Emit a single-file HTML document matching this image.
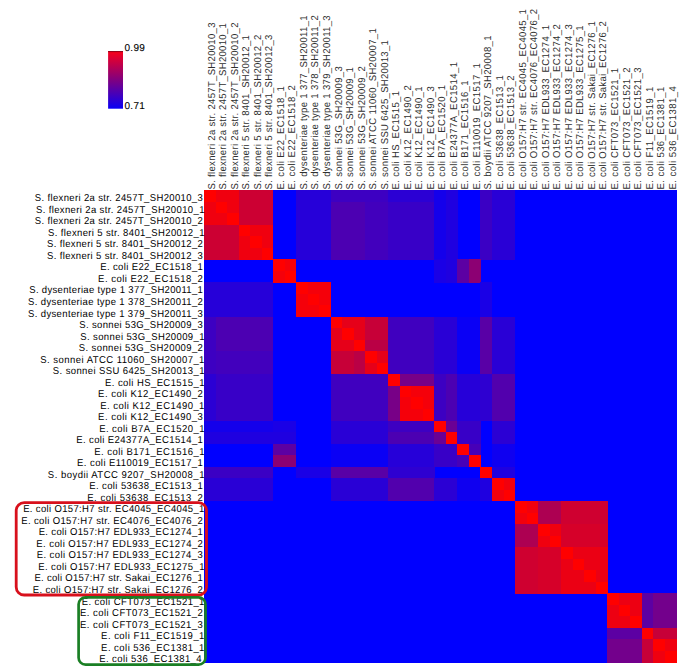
<!DOCTYPE html>
<html><head><meta charset="utf-8"><style>
html,body{margin:0;padding:0;background:#fff;width:685px;height:670px;overflow:hidden}
svg{display:block}
text{font-family:"Liberation Sans",sans-serif;font-size:10px;text-rendering:geometricPrecision;fill:#000;stroke:#000;stroke-width:0.0px;letter-spacing:0.41px}
.cols text{fill:#303030}
</style></head><body>
<svg width="685" height="670" viewBox="0 0 685 670">
<defs><linearGradient id="cb" x1="0" y1="0" x2="0" y2="1"><stop offset="0" stop-color="#fa001a"/><stop offset="0.5" stop-color="#800080"/><stop offset="1" stop-color="#0a00f5"/></linearGradient></defs>
<rect x="108.1" y="51.1" width="14.9" height="57.6" fill="url(#cb)"/>
<rect x="108.1" y="51.1" width="14.9" height="1" fill="#8a0018"/>
<text x="124.4" y="51" style="font-size:10px;letter-spacing:0.35px;stroke-width:0.1px">0.99</text>
<text x="124.4" y="108.8" style="font-size:10px;letter-spacing:0.35px;stroke-width:0.1px">0.71</text>
<g shape-rendering="crispEdges">
<rect x="204.0" y="190.1" width="472.62" height="472.62" fill="#0000ff"/>
<rect x="204.00" y="190.10" width="11.82" height="11.82" fill="#ff0000"/>
<rect x="215.52" y="190.10" width="23.34" height="11.82" fill="#f0000f"/>
<rect x="238.56" y="190.10" width="34.86" height="11.82" fill="#cc0033"/>
<rect x="296.16" y="190.10" width="34.86" height="11.82" fill="#2600d9"/>
<rect x="330.72" y="190.10" width="57.90" height="11.82" fill="#3d00c2"/>
<rect x="388.32" y="190.10" width="46.38" height="11.82" fill="#2b00d4"/>
<rect x="434.40" y="190.10" width="11.82" height="11.82" fill="#1400eb"/>
<rect x="445.92" y="190.10" width="11.82" height="11.82" fill="#1f00e0"/>
<rect x="480.48" y="190.10" width="11.82" height="11.82" fill="#3b00c4"/>
<rect x="492.00" y="190.10" width="23.34" height="11.82" fill="#2900d6"/>
<rect x="204.00" y="201.62" width="11.82" height="11.82" fill="#f0000f"/>
<rect x="215.52" y="201.62" width="11.82" height="11.82" fill="#ff0000"/>
<rect x="227.04" y="201.62" width="11.82" height="11.82" fill="#f0000f"/>
<rect x="238.56" y="201.62" width="34.86" height="11.82" fill="#cc0033"/>
<rect x="296.16" y="201.62" width="34.86" height="11.82" fill="#2600d9"/>
<rect x="330.72" y="201.62" width="34.86" height="11.82" fill="#4c00b2"/>
<rect x="365.28" y="201.62" width="23.34" height="11.82" fill="#4200bd"/>
<rect x="388.32" y="201.62" width="46.38" height="11.82" fill="#3800c7"/>
<rect x="434.40" y="201.62" width="11.82" height="11.82" fill="#1400eb"/>
<rect x="445.92" y="201.62" width="11.82" height="11.82" fill="#1f00e0"/>
<rect x="480.48" y="201.62" width="11.82" height="11.82" fill="#3b00c4"/>
<rect x="492.00" y="201.62" width="23.34" height="11.82" fill="#2900d6"/>
<rect x="204.00" y="213.14" width="23.34" height="11.82" fill="#f0000f"/>
<rect x="227.04" y="213.14" width="11.82" height="11.82" fill="#ff0000"/>
<rect x="238.56" y="213.14" width="34.86" height="11.82" fill="#cc0033"/>
<rect x="296.16" y="213.14" width="34.86" height="11.82" fill="#2600d9"/>
<rect x="330.72" y="213.14" width="34.86" height="11.82" fill="#4c00b2"/>
<rect x="365.28" y="213.14" width="23.34" height="11.82" fill="#4200bd"/>
<rect x="388.32" y="213.14" width="46.38" height="11.82" fill="#3800c7"/>
<rect x="434.40" y="213.14" width="11.82" height="11.82" fill="#1400eb"/>
<rect x="445.92" y="213.14" width="11.82" height="11.82" fill="#1f00e0"/>
<rect x="480.48" y="213.14" width="11.82" height="11.82" fill="#3b00c4"/>
<rect x="492.00" y="213.14" width="23.34" height="11.82" fill="#2900d6"/>
<rect x="204.00" y="224.66" width="34.86" height="11.82" fill="#cc0033"/>
<rect x="238.56" y="224.66" width="11.82" height="11.82" fill="#ff0000"/>
<rect x="250.08" y="224.66" width="23.34" height="11.82" fill="#f0000f"/>
<rect x="296.16" y="224.66" width="34.86" height="11.82" fill="#2600d9"/>
<rect x="330.72" y="224.66" width="34.86" height="11.82" fill="#4c00b2"/>
<rect x="365.28" y="224.66" width="23.34" height="11.82" fill="#4200bd"/>
<rect x="388.32" y="224.66" width="46.38" height="11.82" fill="#3800c7"/>
<rect x="434.40" y="224.66" width="11.82" height="11.82" fill="#1400eb"/>
<rect x="445.92" y="224.66" width="11.82" height="11.82" fill="#1f00e0"/>
<rect x="480.48" y="224.66" width="11.82" height="11.82" fill="#3b00c4"/>
<rect x="492.00" y="224.66" width="23.34" height="11.82" fill="#2900d6"/>
<rect x="204.00" y="236.18" width="34.86" height="11.82" fill="#cc0033"/>
<rect x="238.56" y="236.18" width="11.82" height="11.82" fill="#f0000f"/>
<rect x="250.08" y="236.18" width="11.82" height="11.82" fill="#ff0000"/>
<rect x="261.60" y="236.18" width="11.82" height="11.82" fill="#f0000f"/>
<rect x="296.16" y="236.18" width="34.86" height="11.82" fill="#2600d9"/>
<rect x="330.72" y="236.18" width="34.86" height="11.82" fill="#4c00b2"/>
<rect x="365.28" y="236.18" width="23.34" height="11.82" fill="#4200bd"/>
<rect x="388.32" y="236.18" width="46.38" height="11.82" fill="#3800c7"/>
<rect x="434.40" y="236.18" width="11.82" height="11.82" fill="#1400eb"/>
<rect x="445.92" y="236.18" width="11.82" height="11.82" fill="#1f00e0"/>
<rect x="480.48" y="236.18" width="11.82" height="11.82" fill="#3b00c4"/>
<rect x="492.00" y="236.18" width="23.34" height="11.82" fill="#2900d6"/>
<rect x="204.00" y="247.70" width="34.86" height="11.82" fill="#cc0033"/>
<rect x="238.56" y="247.70" width="23.34" height="11.82" fill="#f0000f"/>
<rect x="261.60" y="247.70" width="11.82" height="11.82" fill="#ff0000"/>
<rect x="296.16" y="247.70" width="34.86" height="11.82" fill="#2600d9"/>
<rect x="330.72" y="247.70" width="34.86" height="11.82" fill="#4c00b2"/>
<rect x="365.28" y="247.70" width="23.34" height="11.82" fill="#4200bd"/>
<rect x="388.32" y="247.70" width="46.38" height="11.82" fill="#3800c7"/>
<rect x="434.40" y="247.70" width="11.82" height="11.82" fill="#1400eb"/>
<rect x="445.92" y="247.70" width="11.82" height="11.82" fill="#1f00e0"/>
<rect x="480.48" y="247.70" width="11.82" height="11.82" fill="#3b00c4"/>
<rect x="492.00" y="247.70" width="23.34" height="11.82" fill="#2900d6"/>
<rect x="273.12" y="259.22" width="11.82" height="11.82" fill="#ff0000"/>
<rect x="284.64" y="259.22" width="11.82" height="11.82" fill="#f5000a"/>
<rect x="434.40" y="259.22" width="11.82" height="11.82" fill="#1a00e6"/>
<rect x="445.92" y="259.22" width="11.82" height="11.82" fill="#1f00e0"/>
<rect x="457.44" y="259.22" width="11.82" height="11.82" fill="#5c00a3"/>
<rect x="468.96" y="259.22" width="11.82" height="11.82" fill="#8c0073"/>
<rect x="273.12" y="270.74" width="11.82" height="11.82" fill="#f5000a"/>
<rect x="284.64" y="270.74" width="11.82" height="11.82" fill="#ff0000"/>
<rect x="434.40" y="270.74" width="11.82" height="11.82" fill="#1a00e6"/>
<rect x="445.92" y="270.74" width="11.82" height="11.82" fill="#1f00e0"/>
<rect x="457.44" y="270.74" width="11.82" height="11.82" fill="#5c00a3"/>
<rect x="468.96" y="270.74" width="11.82" height="11.82" fill="#8c0073"/>
<rect x="204.00" y="282.26" width="69.42" height="11.82" fill="#2600d9"/>
<rect x="296.16" y="282.26" width="11.82" height="11.82" fill="#ff0000"/>
<rect x="307.68" y="282.26" width="23.34" height="11.82" fill="#f5000a"/>
<rect x="480.48" y="282.26" width="11.82" height="11.82" fill="#1a00e6"/>
<rect x="204.00" y="293.78" width="69.42" height="11.82" fill="#2600d9"/>
<rect x="296.16" y="293.78" width="11.82" height="11.82" fill="#f5000a"/>
<rect x="307.68" y="293.78" width="11.82" height="11.82" fill="#ff0000"/>
<rect x="319.20" y="293.78" width="11.82" height="11.82" fill="#f5000a"/>
<rect x="480.48" y="293.78" width="11.82" height="11.82" fill="#1a00e6"/>
<rect x="204.00" y="305.30" width="69.42" height="11.82" fill="#2600d9"/>
<rect x="296.16" y="305.30" width="23.34" height="11.82" fill="#f5000a"/>
<rect x="319.20" y="305.30" width="11.82" height="11.82" fill="#ff0000"/>
<rect x="480.48" y="305.30" width="11.82" height="11.82" fill="#1a00e6"/>
<rect x="204.00" y="316.82" width="11.82" height="11.82" fill="#3d00c2"/>
<rect x="215.52" y="316.82" width="57.90" height="11.82" fill="#4c00b2"/>
<rect x="330.72" y="316.82" width="11.82" height="11.82" fill="#ff0000"/>
<rect x="342.24" y="316.82" width="23.34" height="11.82" fill="#e60019"/>
<rect x="365.28" y="316.82" width="23.34" height="11.82" fill="#c70038"/>
<rect x="388.32" y="316.82" width="46.38" height="11.82" fill="#4000bf"/>
<rect x="434.40" y="316.82" width="23.34" height="11.82" fill="#2900d6"/>
<rect x="457.44" y="316.82" width="23.34" height="11.82" fill="#0a00f5"/>
<rect x="480.48" y="316.82" width="11.82" height="11.82" fill="#5900a6"/>
<rect x="492.00" y="316.82" width="23.34" height="11.82" fill="#2900d6"/>
<rect x="204.00" y="328.34" width="11.82" height="11.82" fill="#3d00c2"/>
<rect x="215.52" y="328.34" width="57.90" height="11.82" fill="#4c00b2"/>
<rect x="330.72" y="328.34" width="11.82" height="11.82" fill="#e60019"/>
<rect x="342.24" y="328.34" width="11.82" height="11.82" fill="#ff0000"/>
<rect x="353.76" y="328.34" width="11.82" height="11.82" fill="#e60019"/>
<rect x="365.28" y="328.34" width="23.34" height="11.82" fill="#c70038"/>
<rect x="388.32" y="328.34" width="46.38" height="11.82" fill="#4000bf"/>
<rect x="434.40" y="328.34" width="23.34" height="11.82" fill="#2900d6"/>
<rect x="457.44" y="328.34" width="23.34" height="11.82" fill="#0a00f5"/>
<rect x="480.48" y="328.34" width="11.82" height="11.82" fill="#5900a6"/>
<rect x="492.00" y="328.34" width="23.34" height="11.82" fill="#2900d6"/>
<rect x="204.00" y="339.86" width="11.82" height="11.82" fill="#3d00c2"/>
<rect x="215.52" y="339.86" width="57.90" height="11.82" fill="#4c00b2"/>
<rect x="330.72" y="339.86" width="23.34" height="11.82" fill="#e60019"/>
<rect x="353.76" y="339.86" width="11.82" height="11.82" fill="#ff0000"/>
<rect x="365.28" y="339.86" width="23.34" height="11.82" fill="#ba0045"/>
<rect x="388.32" y="339.86" width="46.38" height="11.82" fill="#4000bf"/>
<rect x="434.40" y="339.86" width="23.34" height="11.82" fill="#2900d6"/>
<rect x="457.44" y="339.86" width="23.34" height="11.82" fill="#0a00f5"/>
<rect x="480.48" y="339.86" width="11.82" height="11.82" fill="#5900a6"/>
<rect x="492.00" y="339.86" width="23.34" height="11.82" fill="#2900d6"/>
<rect x="204.00" y="351.38" width="11.82" height="11.82" fill="#3d00c2"/>
<rect x="215.52" y="351.38" width="57.90" height="11.82" fill="#4200bd"/>
<rect x="330.72" y="351.38" width="23.34" height="11.82" fill="#c70038"/>
<rect x="353.76" y="351.38" width="11.82" height="11.82" fill="#ba0045"/>
<rect x="365.28" y="351.38" width="11.82" height="11.82" fill="#ff0000"/>
<rect x="376.80" y="351.38" width="11.82" height="11.82" fill="#e60019"/>
<rect x="388.32" y="351.38" width="46.38" height="11.82" fill="#4000bf"/>
<rect x="434.40" y="351.38" width="23.34" height="11.82" fill="#2900d6"/>
<rect x="457.44" y="351.38" width="23.34" height="11.82" fill="#0a00f5"/>
<rect x="480.48" y="351.38" width="11.82" height="11.82" fill="#5900a6"/>
<rect x="492.00" y="351.38" width="23.34" height="11.82" fill="#2900d6"/>
<rect x="204.00" y="362.90" width="11.82" height="11.82" fill="#3d00c2"/>
<rect x="215.52" y="362.90" width="57.90" height="11.82" fill="#4200bd"/>
<rect x="330.72" y="362.90" width="23.34" height="11.82" fill="#c70038"/>
<rect x="353.76" y="362.90" width="11.82" height="11.82" fill="#ba0045"/>
<rect x="365.28" y="362.90" width="11.82" height="11.82" fill="#e60019"/>
<rect x="376.80" y="362.90" width="11.82" height="11.82" fill="#ff0000"/>
<rect x="388.32" y="362.90" width="46.38" height="11.82" fill="#4000bf"/>
<rect x="434.40" y="362.90" width="23.34" height="11.82" fill="#2900d6"/>
<rect x="457.44" y="362.90" width="23.34" height="11.82" fill="#0a00f5"/>
<rect x="480.48" y="362.90" width="11.82" height="11.82" fill="#5900a6"/>
<rect x="492.00" y="362.90" width="23.34" height="11.82" fill="#2900d6"/>
<rect x="204.00" y="374.42" width="11.82" height="11.82" fill="#2b00d4"/>
<rect x="215.52" y="374.42" width="57.90" height="11.82" fill="#3800c7"/>
<rect x="330.72" y="374.42" width="57.90" height="11.82" fill="#4000bf"/>
<rect x="388.32" y="374.42" width="11.82" height="11.82" fill="#ff0000"/>
<rect x="399.84" y="374.42" width="34.86" height="11.82" fill="#780087"/>
<rect x="434.40" y="374.42" width="11.82" height="11.82" fill="#3d00c2"/>
<rect x="445.92" y="374.42" width="11.82" height="11.82" fill="#4c00b2"/>
<rect x="457.44" y="374.42" width="23.34" height="11.82" fill="#2600d9"/>
<rect x="480.48" y="374.42" width="11.82" height="11.82" fill="#2e00d1"/>
<rect x="492.00" y="374.42" width="23.34" height="11.82" fill="#5200ad"/>
<rect x="204.00" y="385.94" width="11.82" height="11.82" fill="#2b00d4"/>
<rect x="215.52" y="385.94" width="57.90" height="11.82" fill="#3800c7"/>
<rect x="330.72" y="385.94" width="57.90" height="11.82" fill="#4000bf"/>
<rect x="388.32" y="385.94" width="11.82" height="11.82" fill="#780087"/>
<rect x="399.84" y="385.94" width="11.82" height="11.82" fill="#ff0000"/>
<rect x="411.36" y="385.94" width="23.34" height="11.82" fill="#f5000a"/>
<rect x="434.40" y="385.94" width="11.82" height="11.82" fill="#3d00c2"/>
<rect x="445.92" y="385.94" width="11.82" height="11.82" fill="#4c00b2"/>
<rect x="457.44" y="385.94" width="23.34" height="11.82" fill="#2600d9"/>
<rect x="480.48" y="385.94" width="11.82" height="11.82" fill="#2e00d1"/>
<rect x="492.00" y="385.94" width="23.34" height="11.82" fill="#5200ad"/>
<rect x="204.00" y="397.46" width="11.82" height="11.82" fill="#2b00d4"/>
<rect x="215.52" y="397.46" width="57.90" height="11.82" fill="#3800c7"/>
<rect x="330.72" y="397.46" width="57.90" height="11.82" fill="#4000bf"/>
<rect x="388.32" y="397.46" width="11.82" height="11.82" fill="#780087"/>
<rect x="399.84" y="397.46" width="11.82" height="11.82" fill="#f5000a"/>
<rect x="411.36" y="397.46" width="11.82" height="11.82" fill="#ff0000"/>
<rect x="422.88" y="397.46" width="11.82" height="11.82" fill="#f5000a"/>
<rect x="434.40" y="397.46" width="11.82" height="11.82" fill="#3d00c2"/>
<rect x="445.92" y="397.46" width="11.82" height="11.82" fill="#4c00b2"/>
<rect x="457.44" y="397.46" width="23.34" height="11.82" fill="#2600d9"/>
<rect x="480.48" y="397.46" width="11.82" height="11.82" fill="#2e00d1"/>
<rect x="492.00" y="397.46" width="23.34" height="11.82" fill="#5200ad"/>
<rect x="204.00" y="408.98" width="11.82" height="11.82" fill="#2b00d4"/>
<rect x="215.52" y="408.98" width="57.90" height="11.82" fill="#3800c7"/>
<rect x="330.72" y="408.98" width="57.90" height="11.82" fill="#4000bf"/>
<rect x="388.32" y="408.98" width="11.82" height="11.82" fill="#780087"/>
<rect x="399.84" y="408.98" width="23.34" height="11.82" fill="#f5000a"/>
<rect x="422.88" y="408.98" width="11.82" height="11.82" fill="#ff0000"/>
<rect x="434.40" y="408.98" width="11.82" height="11.82" fill="#3d00c2"/>
<rect x="445.92" y="408.98" width="11.82" height="11.82" fill="#4c00b2"/>
<rect x="457.44" y="408.98" width="23.34" height="11.82" fill="#2600d9"/>
<rect x="480.48" y="408.98" width="11.82" height="11.82" fill="#2e00d1"/>
<rect x="492.00" y="408.98" width="23.34" height="11.82" fill="#5200ad"/>
<rect x="204.00" y="420.50" width="69.42" height="11.82" fill="#1400eb"/>
<rect x="273.12" y="420.50" width="23.34" height="11.82" fill="#1a00e6"/>
<rect x="330.72" y="420.50" width="57.90" height="11.82" fill="#2900d6"/>
<rect x="388.32" y="420.50" width="46.38" height="11.82" fill="#3d00c2"/>
<rect x="434.40" y="420.50" width="11.82" height="11.82" fill="#ff0000"/>
<rect x="445.92" y="420.50" width="11.82" height="11.82" fill="#6b0094"/>
<rect x="457.44" y="420.50" width="23.34" height="11.82" fill="#3800c7"/>
<rect x="492.00" y="420.50" width="23.34" height="11.82" fill="#2b00d4"/>
<rect x="204.00" y="432.02" width="92.46" height="11.82" fill="#1f00e0"/>
<rect x="330.72" y="432.02" width="57.90" height="11.82" fill="#2900d6"/>
<rect x="388.32" y="432.02" width="46.38" height="11.82" fill="#4c00b2"/>
<rect x="434.40" y="432.02" width="11.82" height="11.82" fill="#6b0094"/>
<rect x="445.92" y="432.02" width="11.82" height="11.82" fill="#ff0000"/>
<rect x="457.44" y="432.02" width="23.34" height="11.82" fill="#3800c7"/>
<rect x="492.00" y="432.02" width="23.34" height="11.82" fill="#2b00d4"/>
<rect x="273.12" y="443.54" width="23.34" height="11.82" fill="#5c00a3"/>
<rect x="330.72" y="443.54" width="57.90" height="11.82" fill="#0a00f5"/>
<rect x="388.32" y="443.54" width="46.38" height="11.82" fill="#2600d9"/>
<rect x="434.40" y="443.54" width="23.34" height="11.82" fill="#3800c7"/>
<rect x="457.44" y="443.54" width="11.82" height="11.82" fill="#ff0000"/>
<rect x="468.96" y="443.54" width="11.82" height="11.82" fill="#4700b8"/>
<rect x="492.00" y="443.54" width="23.34" height="11.82" fill="#0f00f0"/>
<rect x="273.12" y="455.06" width="23.34" height="11.82" fill="#8c0073"/>
<rect x="330.72" y="455.06" width="57.90" height="11.82" fill="#0a00f5"/>
<rect x="388.32" y="455.06" width="46.38" height="11.82" fill="#2600d9"/>
<rect x="434.40" y="455.06" width="23.34" height="11.82" fill="#3800c7"/>
<rect x="457.44" y="455.06" width="11.82" height="11.82" fill="#4700b8"/>
<rect x="468.96" y="455.06" width="11.82" height="11.82" fill="#ff0000"/>
<rect x="492.00" y="455.06" width="23.34" height="11.82" fill="#0f00f0"/>
<rect x="204.00" y="466.58" width="69.42" height="11.82" fill="#3b00c4"/>
<rect x="296.16" y="466.58" width="34.86" height="11.82" fill="#1a00e6"/>
<rect x="330.72" y="466.58" width="57.90" height="11.82" fill="#5900a6"/>
<rect x="388.32" y="466.58" width="46.38" height="11.82" fill="#2e00d1"/>
<rect x="480.48" y="466.58" width="11.82" height="11.82" fill="#ff0000"/>
<rect x="492.00" y="466.58" width="23.34" height="11.82" fill="#1f00e0"/>
<rect x="204.00" y="478.10" width="69.42" height="11.82" fill="#2900d6"/>
<rect x="330.72" y="478.10" width="57.90" height="11.82" fill="#2900d6"/>
<rect x="388.32" y="478.10" width="46.38" height="11.82" fill="#5200ad"/>
<rect x="434.40" y="478.10" width="23.34" height="11.82" fill="#2b00d4"/>
<rect x="457.44" y="478.10" width="23.34" height="11.82" fill="#0f00f0"/>
<rect x="480.48" y="478.10" width="11.82" height="11.82" fill="#1f00e0"/>
<rect x="492.00" y="478.10" width="11.82" height="11.82" fill="#ff0000"/>
<rect x="503.52" y="478.10" width="11.82" height="11.82" fill="#f2000d"/>
<rect x="204.00" y="489.62" width="69.42" height="11.82" fill="#2900d6"/>
<rect x="330.72" y="489.62" width="57.90" height="11.82" fill="#2900d6"/>
<rect x="388.32" y="489.62" width="46.38" height="11.82" fill="#5200ad"/>
<rect x="434.40" y="489.62" width="23.34" height="11.82" fill="#2b00d4"/>
<rect x="457.44" y="489.62" width="23.34" height="11.82" fill="#0f00f0"/>
<rect x="480.48" y="489.62" width="11.82" height="11.82" fill="#1f00e0"/>
<rect x="492.00" y="489.62" width="11.82" height="11.82" fill="#f2000d"/>
<rect x="503.52" y="489.62" width="11.82" height="11.82" fill="#ff0000"/>
<rect x="515.04" y="501.14" width="11.82" height="11.82" fill="#ff0000"/>
<rect x="526.56" y="501.14" width="11.82" height="11.82" fill="#f2000d"/>
<rect x="538.08" y="501.14" width="23.34" height="11.82" fill="#ad0052"/>
<rect x="561.12" y="501.14" width="46.38" height="11.82" fill="#cf0030"/>
<rect x="515.04" y="512.66" width="11.82" height="11.82" fill="#f2000d"/>
<rect x="526.56" y="512.66" width="11.82" height="11.82" fill="#ff0000"/>
<rect x="538.08" y="512.66" width="23.34" height="11.82" fill="#ad0052"/>
<rect x="561.12" y="512.66" width="46.38" height="11.82" fill="#cf0030"/>
<rect x="515.04" y="524.18" width="23.34" height="11.82" fill="#ad0052"/>
<rect x="538.08" y="524.18" width="11.82" height="11.82" fill="#ff0000"/>
<rect x="549.60" y="524.18" width="11.82" height="11.82" fill="#f0000f"/>
<rect x="561.12" y="524.18" width="46.38" height="11.82" fill="#d60029"/>
<rect x="515.04" y="535.70" width="23.34" height="11.82" fill="#ad0052"/>
<rect x="538.08" y="535.70" width="11.82" height="11.82" fill="#f0000f"/>
<rect x="549.60" y="535.70" width="11.82" height="11.82" fill="#ff0000"/>
<rect x="561.12" y="535.70" width="46.38" height="11.82" fill="#d60029"/>
<rect x="515.04" y="547.22" width="23.34" height="11.82" fill="#cf0030"/>
<rect x="538.08" y="547.22" width="23.34" height="11.82" fill="#d60029"/>
<rect x="561.12" y="547.22" width="11.82" height="11.82" fill="#ff0000"/>
<rect x="572.64" y="547.22" width="34.86" height="11.82" fill="#eb0014"/>
<rect x="515.04" y="558.74" width="23.34" height="11.82" fill="#cf0030"/>
<rect x="538.08" y="558.74" width="23.34" height="11.82" fill="#d60029"/>
<rect x="561.12" y="558.74" width="11.82" height="11.82" fill="#eb0014"/>
<rect x="572.64" y="558.74" width="11.82" height="11.82" fill="#ff0000"/>
<rect x="584.16" y="558.74" width="23.34" height="11.82" fill="#eb0014"/>
<rect x="515.04" y="570.26" width="23.34" height="11.82" fill="#cf0030"/>
<rect x="538.08" y="570.26" width="23.34" height="11.82" fill="#d60029"/>
<rect x="561.12" y="570.26" width="23.34" height="11.82" fill="#eb0014"/>
<rect x="584.16" y="570.26" width="11.82" height="11.82" fill="#ff0000"/>
<rect x="595.68" y="570.26" width="11.82" height="11.82" fill="#eb0014"/>
<rect x="515.04" y="581.78" width="23.34" height="11.82" fill="#cf0030"/>
<rect x="538.08" y="581.78" width="23.34" height="11.82" fill="#d60029"/>
<rect x="561.12" y="581.78" width="34.86" height="11.82" fill="#eb0014"/>
<rect x="595.68" y="581.78" width="11.82" height="11.82" fill="#ff0000"/>
<rect x="607.20" y="593.30" width="11.82" height="11.82" fill="#ff0000"/>
<rect x="618.72" y="593.30" width="23.34" height="11.82" fill="#ed0012"/>
<rect x="641.76" y="593.30" width="11.82" height="11.82" fill="#5c00a3"/>
<rect x="653.28" y="593.30" width="23.34" height="11.82" fill="#73008c"/>
<rect x="607.20" y="604.82" width="11.82" height="11.82" fill="#ed0012"/>
<rect x="618.72" y="604.82" width="11.82" height="11.82" fill="#ff0000"/>
<rect x="630.24" y="604.82" width="11.82" height="11.82" fill="#ed0012"/>
<rect x="641.76" y="604.82" width="11.82" height="11.82" fill="#5c00a3"/>
<rect x="653.28" y="604.82" width="23.34" height="11.82" fill="#73008c"/>
<rect x="607.20" y="616.34" width="23.34" height="11.82" fill="#ed0012"/>
<rect x="630.24" y="616.34" width="11.82" height="11.82" fill="#ff0000"/>
<rect x="641.76" y="616.34" width="11.82" height="11.82" fill="#5c00a3"/>
<rect x="653.28" y="616.34" width="23.34" height="11.82" fill="#73008c"/>
<rect x="607.20" y="627.86" width="34.86" height="11.82" fill="#5c00a3"/>
<rect x="641.76" y="627.86" width="11.82" height="11.82" fill="#ff0000"/>
<rect x="653.28" y="627.86" width="23.34" height="11.82" fill="#c70038"/>
<rect x="607.20" y="639.38" width="34.86" height="11.82" fill="#73008c"/>
<rect x="641.76" y="639.38" width="11.82" height="11.82" fill="#c70038"/>
<rect x="653.28" y="639.38" width="11.82" height="11.82" fill="#ff0000"/>
<rect x="664.80" y="639.38" width="11.82" height="11.82" fill="#f0000f"/>
<rect x="607.20" y="650.90" width="34.86" height="11.82" fill="#73008c"/>
<rect x="641.76" y="650.90" width="11.82" height="11.82" fill="#c70038"/>
<rect x="653.28" y="650.90" width="11.82" height="11.82" fill="#f0000f"/>
<rect x="664.80" y="650.90" width="11.82" height="11.82" fill="#ff0000"/>
</g>
<g>
<text transform="translate(34.74,201.30) scale(0.95,1)" textLength="177.31" lengthAdjust="spacing">S. flexneri 2a str. 2457T_SH20010_3</text>
<text transform="translate(35.94,212.82) scale(0.95,1)" textLength="177.78" lengthAdjust="spacing">S. flexneri 2a str. 2457T_SH20010_1</text>
<text transform="translate(34.74,224.34) scale(0.95,1)" textLength="177.40" lengthAdjust="spacing">S. flexneri 2a str. 2457T_SH20010_2</text>
<text transform="translate(48.06,235.86) scale(0.95,1)" textLength="165.02" lengthAdjust="spacing">S. flexneri 5 str. 8401_SH20012_1</text>
<text transform="translate(47.05,247.38) scale(0.95,1)" textLength="164.44" lengthAdjust="spacing">S. flexneri 5 str. 8401_SH20012_2</text>
<text transform="translate(47.05,258.90) scale(0.95,1)" textLength="164.36" lengthAdjust="spacing">S. flexneri 5 str. 8401_SH20012_3</text>
<text transform="translate(100.27,270.42) scale(0.95,1)" textLength="108.40" lengthAdjust="spacing">E. coli E22_EC1518_1</text>
<text transform="translate(98.11,281.94) scale(0.95,1)" textLength="110.73" lengthAdjust="spacing">E. coli E22_EC1518_2</text>
<text transform="translate(29.26,293.46) scale(0.95,1)" textLength="183.15" lengthAdjust="spacing">S. dysenteriae type 1 377_SH20011_1</text>
<text transform="translate(28.06,304.98) scale(0.95,1)" textLength="184.47" lengthAdjust="spacing">S. dysenteriae type 1 378_SH20011_2</text>
<text transform="translate(28.06,316.50) scale(0.95,1)" textLength="184.34" lengthAdjust="spacing">S. dysenteriae type 1 379_SH20011_3</text>
<text transform="translate(79.26,328.02) scale(0.95,1)" textLength="130.45" lengthAdjust="spacing">S. sonnei 53G_SH20009_3</text>
<text transform="translate(80.31,339.54) scale(0.95,1)" textLength="131.07" lengthAdjust="spacing">S. sonnei 53G_SH20009_1</text>
<text transform="translate(78.85,351.06) scale(0.95,1)" textLength="131.01" lengthAdjust="spacing">S. sonnei 53G_SH20009_2</text>
<text transform="translate(40.31,362.58) scale(0.95,1)" textLength="173.17" lengthAdjust="spacing">S. sonnei ATCC 11060_SH20007_1</text>
<text transform="translate(52.85,374.10) scale(0.95,1)" textLength="159.98" lengthAdjust="spacing">S. sonnei SSU 6425_SH20013_1</text>
<text transform="translate(105.11,385.62) scale(0.95,1)" textLength="104.96" lengthAdjust="spacing">E. coli HS_EC1515_1</text>
<text transform="translate(98.11,397.14) scale(0.95,1)" textLength="110.73" lengthAdjust="spacing">E. coli K12_EC1490_2</text>
<text transform="translate(100.31,408.66) scale(0.95,1)" textLength="110.01" lengthAdjust="spacing">E. coli K12_EC1490_1</text>
<text transform="translate(98.11,420.18) scale(0.95,1)" textLength="110.60" lengthAdjust="spacing">E. coli K12_EC1490_3</text>
<text transform="translate(99.14,431.70) scale(0.95,1)" textLength="111.25" lengthAdjust="spacing">E. coli B7A_EC1520_1</text>
<text transform="translate(76.31,443.22) scale(0.95,1)" textLength="133.62" lengthAdjust="spacing">E. coli E24377A_EC1514_1</text>
<text transform="translate(94.27,454.74) scale(0.95,1)" textLength="116.37" lengthAdjust="spacing">E. coli B171_EC1516_1</text>
<text transform="translate(77.11,466.26) scale(0.95,1)" textLength="132.78" lengthAdjust="spacing">E. coli E110019_EC1517_1</text>
<text transform="translate(47.85,477.78) scale(0.95,1)" textLength="165.24" lengthAdjust="spacing">S. boydii ATCC 9207_SH20008_1</text>
<text transform="translate(89.14,489.30) scale(0.95,1)" textLength="120.12" lengthAdjust="spacing">E. coli 53638_EC1513_1</text>
<text transform="translate(87.27,500.82) scale(0.95,1)" textLength="122.14" lengthAdjust="spacing">E. coli 53638_EC1513_2</text>
<text transform="translate(23.15,512.34) scale(0.95,1)" textLength="191.21" lengthAdjust="spacing">E. coli O157:H7 str. EC4045_EC4045_1</text>
<text transform="translate(21.27,523.86) scale(0.95,1)" textLength="191.61" lengthAdjust="spacing">E. coli O157:H7 str. EC4076_EC4076_2</text>
<text transform="translate(38.67,535.38) scale(0.95,1)" textLength="173.24" lengthAdjust="spacing">E. coli O157:H7 EDL933_EC1274_1</text>
<text transform="translate(36.31,546.90) scale(0.95,1)" textLength="175.78" lengthAdjust="spacing">E. coli O157:H7 EDL933_EC1274_2</text>
<text transform="translate(36.67,558.42) scale(0.95,1)" textLength="175.28" lengthAdjust="spacing">E. coli O157:H7 EDL933_EC1274_3</text>
<text transform="translate(38.27,569.94) scale(0.95,1)" textLength="175.32" lengthAdjust="spacing">E. coli O157:H7 EDL933_EC1275_1</text>
<text transform="translate(34.47,581.46) scale(0.95,1)" textLength="177.66" lengthAdjust="spacing">E. coli O157:H7 str. Sakai_EC1276_1</text>
<text transform="translate(32.75,592.98) scale(0.95,1)" textLength="179.47" lengthAdjust="spacing">E. coli O157:H7 str. Sakai_EC1276_2</text>
<text transform="translate(81.65,604.50) scale(0.95,1)" textLength="129.63" lengthAdjust="spacing">E. coli CFT073_EC1521_1</text>
<text transform="translate(80.05,616.02) scale(0.95,1)" textLength="129.68" lengthAdjust="spacing">E. coli CFT073_EC1521_2</text>
<text transform="translate(80.05,627.54) scale(0.95,1)" textLength="129.68" lengthAdjust="spacing">E. coli CFT073_EC1521_3</text>
<text transform="translate(101.11,639.06) scale(0.95,1)" textLength="109.17" lengthAdjust="spacing">E. coli F11_EC1519_1</text>
<text transform="translate(101.11,650.58) scale(0.95,1)" textLength="109.17" lengthAdjust="spacing">E. coli 536_EC1381_1</text>
<text transform="translate(99.27,662.10) scale(0.95,1)" textLength="108.12" lengthAdjust="spacing">E. coli 536_EC1381_4</text>
</g>
<g class="cols">
<text transform="translate(214.80,189.5) rotate(-90) scale(0.95,1)" textLength="176.20" lengthAdjust="spacing">S. flexneri 2a str. 2457T_SH20010_3</text>
<text transform="translate(226.32,189.5) rotate(-90) scale(0.95,1)" textLength="175.44" lengthAdjust="spacing">S. flexneri 2a str. 2457T_SH20010_1</text>
<text transform="translate(237.84,189.5) rotate(-90) scale(0.95,1)" textLength="176.22" lengthAdjust="spacing">S. flexneri 2a str. 2457T_SH20010_2</text>
<text transform="translate(249.36,189.5) rotate(-90) scale(0.95,1)" textLength="162.82" lengthAdjust="spacing">S. flexneri 5 str. 8401_SH20012_1</text>
<text transform="translate(260.88,189.5) rotate(-90) scale(0.95,1)" textLength="163.37" lengthAdjust="spacing">S. flexneri 5 str. 8401_SH20012_2</text>
<text transform="translate(272.40,189.5) rotate(-90) scale(0.95,1)" textLength="163.37" lengthAdjust="spacing">S. flexneri 5 str. 8401_SH20012_3</text>
<text transform="translate(283.92,189.5) rotate(-90) scale(0.95,1)" textLength="109.12" lengthAdjust="spacing">E. coli E22_EC1518_1</text>
<text transform="translate(295.44,189.5) rotate(-90) scale(0.95,1)" textLength="110.11" lengthAdjust="spacing">E. coli E22_EC1518_2</text>
<text transform="translate(306.96,189.5) rotate(-90) scale(0.95,1)" textLength="183.66" lengthAdjust="spacing">S. dysenteriae type 1 377_SH20011_1</text>
<text transform="translate(318.48,189.5) rotate(-90) scale(0.95,1)" textLength="183.76" lengthAdjust="spacing">S. dysenteriae type 1 378_SH20011_2</text>
<text transform="translate(330.00,189.5) rotate(-90) scale(0.95,1)" textLength="183.73" lengthAdjust="spacing">S. dysenteriae type 1 379_SH20011_3</text>
<text transform="translate(341.52,189.5) rotate(-90) scale(0.95,1)" textLength="130.09" lengthAdjust="spacing">S. sonnei 53G_SH20009_3</text>
<text transform="translate(353.04,189.5) rotate(-90) scale(0.95,1)" textLength="129.14" lengthAdjust="spacing">S. sonnei 53G_SH20009_1</text>
<text transform="translate(364.56,189.5) rotate(-90) scale(0.95,1)" textLength="130.12" lengthAdjust="spacing">S. sonnei 53G_SH20009_2</text>
<text transform="translate(376.08,189.5) rotate(-90) scale(0.95,1)" textLength="170.19" lengthAdjust="spacing">S. sonnei ATCC 11060_SH20007_1</text>
<text transform="translate(387.60,189.5) rotate(-90) scale(0.95,1)" textLength="157.56" lengthAdjust="spacing">S. sonnei SSU 6425_SH20013_1</text>
<text transform="translate(399.12,189.5) rotate(-90) scale(0.95,1)" textLength="104.08" lengthAdjust="spacing">E. coli HS_EC1515_1</text>
<text transform="translate(410.64,189.5) rotate(-90) scale(0.95,1)" textLength="110.11" lengthAdjust="spacing">E. coli K12_EC1490_2</text>
<text transform="translate(422.16,189.5) rotate(-90) scale(0.95,1)" textLength="108.91" lengthAdjust="spacing">E. coli K12_EC1490_1</text>
<text transform="translate(433.68,189.5) rotate(-90) scale(0.95,1)" textLength="109.04" lengthAdjust="spacing">E. coli K12_EC1490_3</text>
<text transform="translate(445.20,189.5) rotate(-90) scale(0.95,1)" textLength="110.40" lengthAdjust="spacing">E. coli B7A_EC1520_1</text>
<text transform="translate(456.72,189.5) rotate(-90) scale(0.95,1)" textLength="134.61" lengthAdjust="spacing">E. coli E24377A_EC1514_1</text>
<text transform="translate(468.24,189.5) rotate(-90) scale(0.95,1)" textLength="115.23" lengthAdjust="spacing">E. coli B171_EC1516_1</text>
<text transform="translate(479.76,189.5) rotate(-90) scale(0.95,1)" textLength="133.33" lengthAdjust="spacing">E. coli E110019_EC1517_1</text>
<text transform="translate(491.28,189.5) rotate(-90) scale(0.95,1)" textLength="162.60" lengthAdjust="spacing">S. boydii ATCC 9207_SH20008_1</text>
<text transform="translate(502.80,189.5) rotate(-90) scale(0.95,1)" textLength="120.72" lengthAdjust="spacing">E. coli 53638_EC1513_1</text>
<text transform="translate(514.32,189.5) rotate(-90) scale(0.95,1)" textLength="120.44" lengthAdjust="spacing">E. coli 53638_EC1513_2</text>
<text transform="translate(525.84,189.5) rotate(-90) scale(0.95,1)" textLength="190.19" lengthAdjust="spacing">E. coli O157:H7 str. EC4045_EC4045_1</text>
<text transform="translate(537.36,189.5) rotate(-90) scale(0.95,1)" textLength="190.53" lengthAdjust="spacing">E. coli O157:H7 str. EC4076_EC4076_2</text>
<text transform="translate(548.88,189.5) rotate(-90) scale(0.95,1)" textLength="173.56" lengthAdjust="spacing">E. coli O157:H7 EDL933_EC1274_1</text>
<text transform="translate(560.40,189.5) rotate(-90) scale(0.95,1)" textLength="174.32" lengthAdjust="spacing">E. coli O157:H7 EDL933_EC1274_2</text>
<text transform="translate(571.92,189.5) rotate(-90) scale(0.95,1)" textLength="174.32" lengthAdjust="spacing">E. coli O157:H7 EDL933_EC1274_3</text>
<text transform="translate(583.44,189.5) rotate(-90) scale(0.95,1)" textLength="173.12" lengthAdjust="spacing">E. coli O157:H7 EDL933_EC1275_1</text>
<text transform="translate(594.96,189.5) rotate(-90) scale(0.95,1)" textLength="177.54" lengthAdjust="spacing">E. coli O157:H7 str. Sakai_EC1276_1</text>
<text transform="translate(606.48,189.5) rotate(-90) scale(0.95,1)" textLength="177.70" lengthAdjust="spacing">E. coli O157:H7 str. Sakai_EC1276_2</text>
<text transform="translate(618.00,189.5) rotate(-90) scale(0.95,1)" textLength="128.29" lengthAdjust="spacing">E. coli CFT073_EC1521_1</text>
<text transform="translate(629.52,189.5) rotate(-90) scale(0.95,1)" textLength="128.86" lengthAdjust="spacing">E. coli CFT073_EC1521_2</text>
<text transform="translate(641.04,189.5) rotate(-90) scale(0.95,1)" textLength="128.83" lengthAdjust="spacing">E. coli CFT073_EC1521_3</text>
<text transform="translate(652.56,189.5) rotate(-90) scale(0.95,1)" textLength="108.51" lengthAdjust="spacing">E. coli F11_EC1519_1</text>
<text transform="translate(664.08,189.5) rotate(-90) scale(0.95,1)" textLength="108.51" lengthAdjust="spacing">E. coli 536_EC1381_1</text>
<text transform="translate(675.60,189.5) rotate(-90) scale(0.95,1)" textLength="109.08" lengthAdjust="spacing">E. coli 536_EC1381_4</text>
</g>
<rect x="16.2" y="502.7" width="190.3" height="92.3" rx="8" ry="8" fill="none" stroke="#d8101c" stroke-width="2.8"/>
<rect x="78.6" y="597.3" width="126.9" height="67.4" rx="7" ry="7" fill="none" stroke="#1a7f24" stroke-width="2.7"/>
</svg>
</body></html>
